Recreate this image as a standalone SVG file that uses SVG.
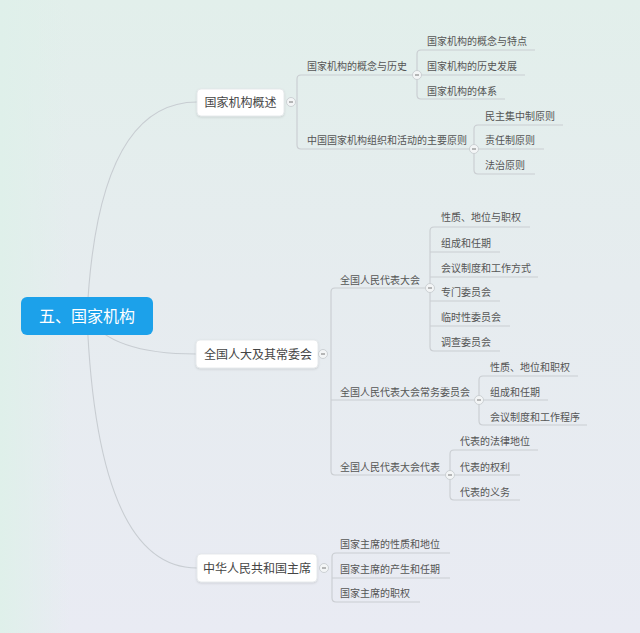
<svg xmlns="http://www.w3.org/2000/svg" width="640" height="633" viewBox="0 0 640 633">
<defs>
<linearGradient id="bg" x1="0" y1="0" x2="0" y2="1">
<stop offset="0" stop-color="#e2efeb"/>
<stop offset="0.45" stop-color="#e6ecef"/>
<stop offset="1" stop-color="#e9ebf3"/>
</linearGradient>
<linearGradient id="bgl" x1="0" y1="0" x2="1" y2="0">
<stop offset="0" stop-color="#dff0ea" stop-opacity="1"/>
<stop offset="1" stop-color="#dff0ea" stop-opacity="0"/>
</linearGradient>
<filter id="sh" x="-10%" y="-20%" width="120%" height="150%">
<feDropShadow dx="0" dy="1" stdDeviation="0.8" flood-color="#000" flood-opacity="0.12"/>
</filter>
</defs>
<style>
text{font-family:"Noto Sans CJK SC","Noto Sans",sans-serif;}
.t{font-size:10px;fill:#555;}
.l1{font-size:12px;fill:#444;text-anchor:middle;}
.root{font-size:16px;fill:#fff;text-anchor:middle;}
.box{fill:#fff;stroke:#e1e4e7;stroke-width:0.8;}
.ln{fill:none;stroke:#c9cdd1;stroke-width:1.1;}
.cv{fill:none;stroke:#c8cdd2;stroke-width:1.1;}
.btn{fill:#f3f5f6;stroke:#c3c8cc;stroke-width:0.8;}
.dash{stroke:#777;stroke-width:1;}
</style>
<rect x="0" y="0" width="640" height="633" fill="url(#bg)"/>
<rect x="0" y="0" width="70" height="633" fill="url(#bgl)"/>

<g id="connectors">
<path class="cv" d="M87 316 Q97 102 197 102"/>
<path class="cv" d="M87 316 Q110 354 196 354"/>
<path class="cv" d="M87 316 Q97 568 197 568"/>
<path class="ln" d="M417 75 H301 Q297 75 297 79 V145 Q297 149 301 149 H474"/>
<path class="ln" d="M535 50 H421 Q417 50 417 54 V95 Q417 99 421 99 H505 M417 75 H525"/>
<path class="ln" d="M563 125 H478 Q474 125 474 129 V170 Q474 174 478 174 H535 M474 149 H544"/>
<path class="ln" d="M430 288 H335 Q331 288 331 292 V471 Q331 475 335 475 H450 M331 400 H479"/>
<path class="ln" d="M530 227 H434 Q430 227 430 231 V347 Q430 351 434 351 H500 M430 252 H500 M430 277 H538 M430 301 H500 M430 326 H510"/>
<path class="ln" d="M578 376 H483 Q479 376 479 380 V421 Q479 425 483 425 H587 M479 400 H548"/>
<path class="ln" d="M538 450 H454 Q450 450 450 454 V496 Q450 500 454 500 H520 M450 475 H520"/>
<path class="ln" d="M450 553 H336 Q332 553 332 557 V598 Q332 602 336 602 H420 M332 578 H450"/>
</g>

<g id="root">
<rect x="21" y="297" width="132" height="38" rx="6" fill="#1ca1ea"/>
<text class="root" x="87" y="322">五、国家机构</text>
</g>

<g id="n1">
<rect class="box" x="197" y="89" width="87" height="27" rx="4" filter="url(#sh)"/>
<text class="l1" x="240.5" y="106.5">国家机构概述</text>
<circle class="btn" cx="291" cy="102" r="4.5"/><line class="dash" x1="289" y1="102" x2="293" y2="102"/>
</g>
<g id="n1a">
<text class="t" x="307" y="69.5">国家机构的概念与历史</text>
<circle class="btn" cx="417" cy="75" r="4.5"/><line class="dash" x1="415" y1="75" x2="419" y2="75"/>
</g>
<g id="n1a1"><text class="t" x="427" y="44.5">国家机构的概念与特点</text></g>
<g id="n1a2"><text class="t" x="427" y="69.5">国家机构的历史发展</text></g>
<g id="n1a3"><text class="t" x="427" y="94.5">国家机构的体系</text></g>
<g id="n1b">
<text class="t" x="307" y="143.5">中国国家机构组织和活动的主要原则</text>
<circle class="btn" cx="474" cy="149" r="4.5"/><line class="dash" x1="472" y1="149" x2="476" y2="149"/>
</g>
<g id="n1b1"><text class="t" x="485" y="119.5">民主集中制原则</text></g>
<g id="n1b2"><text class="t" x="485" y="143.5">责任制原则</text></g>
<g id="n1b3"><text class="t" x="485" y="168.5">法治原则</text></g>

<g id="n2">
<rect class="box" x="196" y="340" width="122" height="28" rx="4" filter="url(#sh)"/>
<text class="l1" x="258" y="358.5">全国人大及其常委会</text>
<circle class="btn" cx="323" cy="354" r="4.5"/><line class="dash" x1="321" y1="354" x2="325" y2="354"/>
</g>
<g id="n2a">
<text class="t" x="340" y="283.5">全国人民代表大会</text>
<circle class="btn" cx="430" cy="288" r="4.5"/><line class="dash" x1="428" y1="288" x2="432" y2="288"/>
</g>
<g id="n2a1"><text class="t" x="441" y="220.5">性质、地位与职权</text></g>
<g id="n2a2"><text class="t" x="441" y="246.5">组成和任期</text></g>
<g id="n2a3"><text class="t" x="441" y="271.5">会议制度和工作方式</text></g>
<g id="n2a4"><text class="t" x="441" y="295.5">专门委员会</text></g>
<g id="n2a5"><text class="t" x="441" y="320.5">临时性委员会</text></g>
<g id="n2a6"><text class="t" x="441" y="345.5">调查委员会</text></g>
<g id="n2b">
<text class="t" x="340" y="395.5">全国人民代表大会常务委员会</text>
<circle class="btn" cx="479" cy="400" r="4.5"/><line class="dash" x1="477" y1="400" x2="481" y2="400"/>
</g>
<g id="n2b1"><text class="t" x="490" y="370.5">性质、地位和职权</text></g>
<g id="n2b2"><text class="t" x="490" y="395.5">组成和任期</text></g>
<g id="n2b3"><text class="t" x="490" y="420.5">会议制度和工作程序</text></g>
<g id="n2c">
<text class="t" x="340" y="470.5">全国人民代表大会代表</text>
<circle class="btn" cx="450" cy="475" r="4.5"/><line class="dash" x1="448" y1="475" x2="452" y2="475"/>
</g>
<g id="n2c1"><text class="t" x="460" y="444.5">代表的法律地位</text></g>
<g id="n2c2"><text class="t" x="460" y="470.5">代表的权利</text></g>
<g id="n2c3"><text class="t" x="460" y="495.5">代表的义务</text></g>

<g id="n3">
<rect class="box" x="197" y="554" width="120" height="28" rx="4" filter="url(#sh)"/>
<text class="l1" x="257" y="572.5">中华人民共和国主席</text>
<circle class="btn" cx="324" cy="568" r="4.5"/><line class="dash" x1="322" y1="568" x2="326" y2="568"/>
</g>
<g id="n3a"><text class="t" x="340" y="547.5">国家主席的性质和地位</text></g>
<g id="n3b"><text class="t" x="340" y="572.5">国家主席的产生和任期</text></g>
<g id="n3c"><text class="t" x="340" y="596.5">国家主席的职权</text></g>
</svg>
